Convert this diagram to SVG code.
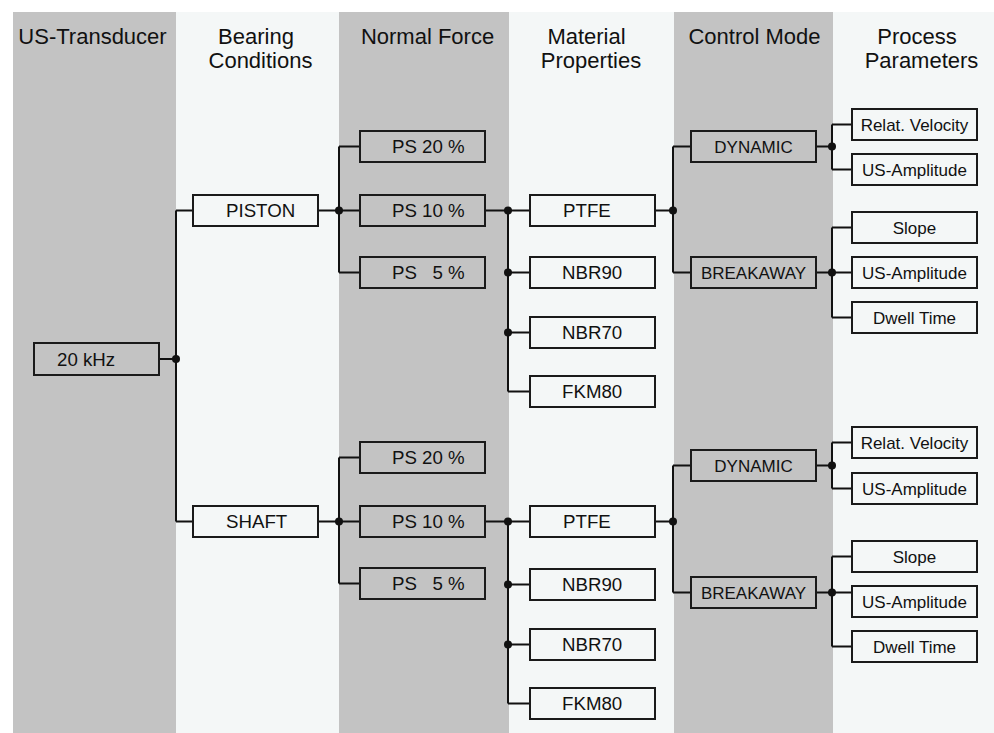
<svg xmlns="http://www.w3.org/2000/svg" width="994" height="733" viewBox="0 0 994 733">
<style>
.bg{fill:#ffffff}
.cg{fill:#c3c3c3}
.cl{fill:#f4f7f7}
.hd{font-family:"Liberation Sans",Arial,sans-serif;font-size:22px;fill:#111;text-anchor:middle}
.bx{stroke:#1a1a1a;stroke-width:2}
.g{fill:#c3c3c3}
.l{fill:#f4f7f7}
.t{font-family:"Liberation Sans",Arial,sans-serif;font-size:18.7px;fill:#111}
.s{font-family:"Liberation Sans",Arial,sans-serif;font-size:17px;fill:#111;text-anchor:middle}
.cn path{fill:none;stroke:#111;stroke-width:2}
.cn circle{fill:#111}
</style>
<rect class="bg" x="0" y="0" width="994" height="733"/>
<g id="columns">
<rect class="cg" x="13" y="12" width="163" height="721"/>
<rect class="cl" x="176" y="12" width="163" height="721"/>
<rect class="cg" x="339" y="12" width="170" height="721"/>
<rect class="cl" x="509" y="12" width="165" height="721"/>
<rect class="cg" x="674" y="12" width="159" height="721"/>
<rect class="cl" x="833" y="12" width="161" height="721"/>
</g>
<g id="headers">
<text class="hd" x="92.5" y="44">US-Transducer</text>
<text class="hd" x="256" y="44">Bearing</text>
<text class="hd" x="260.5" y="68">Conditions</text>
<text class="hd" x="427.5" y="44">Normal Force</text>
<text class="hd" x="586.5" y="44">Material</text>
<text class="hd" x="591" y="68">Properties</text>
<text class="hd" x="754.5" y="44">Control Mode</text>
<text class="hd" x="917" y="44">Process</text>
<text class="hd" x="921.5" y="68">Parameters</text>
</g>
<g id="connectors" class="cn">
<path d="M159,359H176M176,210.5V521.5M176,210.5H193M176,521.5H193"/>
<circle cx="176" cy="359" r="4"/>
<!-- top branch -->
<path d="M318,210.5H360M339,146.5V272.5M339,146.5H360M339,272.5H360"/>
<circle cx="339" cy="210.5" r="4"/>
<path d="M485,210.5H530M508,210.5V391.5M508,272.5H530M508,332.5H530M508,391.5H530"/>
<circle cx="508" cy="210.5" r="4"/>
<circle cx="508" cy="272.5" r="4"/>
<circle cx="508" cy="332.5" r="4"/>
<path d="M655,210.5H673M673,146.5V272.5M673,146.5H691M673,272.5H691"/>
<circle cx="673" cy="210.5" r="4"/>
<path d="M816,146.5H832M832,124.5V169.5M832,124.5H852M832,169.5H852"/>
<circle cx="832" cy="146.5" r="4"/>
<path d="M816,272.5H852M832,227.5V317.5M832,227.5H852M832,317.5H852"/>
<circle cx="832" cy="272.5" r="4"/>
<!-- bottom branch -->
<path d="M318,521.5H360M339,457.5V583.5M339,457.5H360M339,583.5H360"/>
<circle cx="339" cy="521.5" r="4"/>
<path d="M485,521.5H530M508,521.5V703.5M508,584.5H530M508,644.5H530M508,703.5H530"/>
<circle cx="508" cy="521.5" r="4"/>
<circle cx="508" cy="584.5" r="4"/>
<circle cx="508" cy="644.5" r="4"/>
<path d="M655,521.5H673M673,465.5V592.5M673,465.5H691M673,592.5H691"/>
<circle cx="673" cy="521.5" r="4"/>
<path d="M816,465.5H832M832,442.5V488.5M832,442.5H852M832,488.5H852"/>
<circle cx="832" cy="465.5" r="4"/>
<path d="M816,592.5H852M832,556.5V646.5M832,556.5H852M832,646.5H852"/>
<circle cx="832" cy="592.5" r="4"/>
</g>
<g id="n-20khz"><rect class="bx g" x="34" y="343" width="125" height="32"/><text class="t" x="57" y="366">20 kHz</text></g>
<g id="n-piston"><rect class="bx l" x="193" y="195" width="125" height="31"/><text class="t" x="226" y="217">PISTON</text></g>
<g id="n-shaft"><rect class="bx l" x="193" y="506" width="125" height="31"/><text class="t" x="226" y="528">SHAFT</text></g>
<g id="n-p-ps20"><rect class="bx g" x="360" y="131" width="125" height="31"/><text class="t" x="392" y="153">PS 20 %</text></g>
<g id="n-p-ps10"><rect class="bx g" x="360" y="195" width="125" height="31"/><text class="t" x="392" y="217">PS 10 %</text></g>
<g id="n-p-ps5"><rect class="bx g" x="360" y="257" width="125" height="31"/><text class="t" x="392" y="279" xml:space="preserve">PS   5 %</text></g>
<g id="n-s-ps20"><rect class="bx g" x="360" y="442" width="125" height="31"/><text class="t" x="392" y="464">PS 20 %</text></g>
<g id="n-s-ps10"><rect class="bx g" x="360" y="506" width="125" height="31"/><text class="t" x="392" y="528">PS 10 %</text></g>
<g id="n-s-ps5"><rect class="bx g" x="360" y="568" width="125" height="31"/><text class="t" x="392" y="590" xml:space="preserve">PS   5 %</text></g>
<g id="n-p-ptfe"><rect class="bx l" x="530" y="195" width="125" height="31"/><text class="t" x="563" y="217">PTFE</text></g>
<g id="n-p-nbr90"><rect class="bx l" x="530" y="257" width="125" height="31"/><text class="t" x="562" y="279">NBR90</text></g>
<g id="n-p-nbr70"><rect class="bx l" x="530" y="317" width="125" height="31"/><text class="t" x="562" y="339">NBR70</text></g>
<g id="n-p-fkm80"><rect class="bx l" x="530" y="376" width="125" height="31"/><text class="t" x="562" y="398">FKM80</text></g>
<g id="n-s-ptfe"><rect class="bx l" x="530" y="506" width="125" height="31"/><text class="t" x="563" y="528">PTFE</text></g>
<g id="n-s-nbr90"><rect class="bx l" x="530" y="569" width="125" height="31"/><text class="t" x="562" y="591">NBR90</text></g>
<g id="n-s-nbr70"><rect class="bx l" x="530" y="629" width="125" height="31"/><text class="t" x="562" y="651">NBR70</text></g>
<g id="n-s-fkm80"><rect class="bx l" x="530" y="688" width="125" height="31"/><text class="t" x="562" y="710">FKM80</text></g>
<g id="n-p-dynamic"><rect class="bx g" x="691" y="131" width="125" height="31"/><text class="s" x="753.5" y="153">DYNAMIC</text></g>
<g id="n-p-breakaway"><rect class="bx g" x="691" y="257" width="125" height="31"/><text class="s" x="753.5" y="279">BREAKAWAY</text></g>
<g id="n-s-dynamic"><rect class="bx g" x="691" y="450" width="125" height="31"/><text class="s" x="753.5" y="472">DYNAMIC</text></g>
<g id="n-s-breakaway"><rect class="bx g" x="691" y="577" width="125" height="31"/><text class="s" x="753.5" y="599">BREAKAWAY</text></g>
<g id="n-p-velocity"><rect class="bx l" x="852" y="109" width="125" height="31"/><text class="s" x="914.5" y="131">Relat. Velocity</text></g>
<g id="n-p-dyn-amp"><rect class="bx l" x="852" y="154" width="125" height="31"/><text class="s" x="914.5" y="176">US-Amplitude</text></g>
<g id="n-p-slope"><rect class="bx l" x="852" y="212" width="125" height="31"/><text class="s" x="914.5" y="234">Slope</text></g>
<g id="n-p-brk-amp"><rect class="bx l" x="852" y="257" width="125" height="31"/><text class="s" x="914.5" y="279">US-Amplitude</text></g>
<g id="n-p-dwell"><rect class="bx l" x="852" y="302" width="125" height="31"/><text class="s" x="914.5" y="324">Dwell Time</text></g>
<g id="n-s-velocity"><rect class="bx l" x="852" y="427" width="125" height="31"/><text class="s" x="914.5" y="449">Relat. Velocity</text></g>
<g id="n-s-dyn-amp"><rect class="bx l" x="852" y="473" width="125" height="31"/><text class="s" x="914.5" y="495">US-Amplitude</text></g>
<g id="n-s-slope"><rect class="bx l" x="852" y="541" width="125" height="31"/><text class="s" x="914.5" y="563">Slope</text></g>
<g id="n-s-brk-amp"><rect class="bx l" x="852" y="586" width="125" height="31"/><text class="s" x="914.5" y="608">US-Amplitude</text></g>
<g id="n-s-dwell"><rect class="bx l" x="852" y="631" width="125" height="31"/><text class="s" x="914.5" y="653">Dwell Time</text></g>
</svg>
